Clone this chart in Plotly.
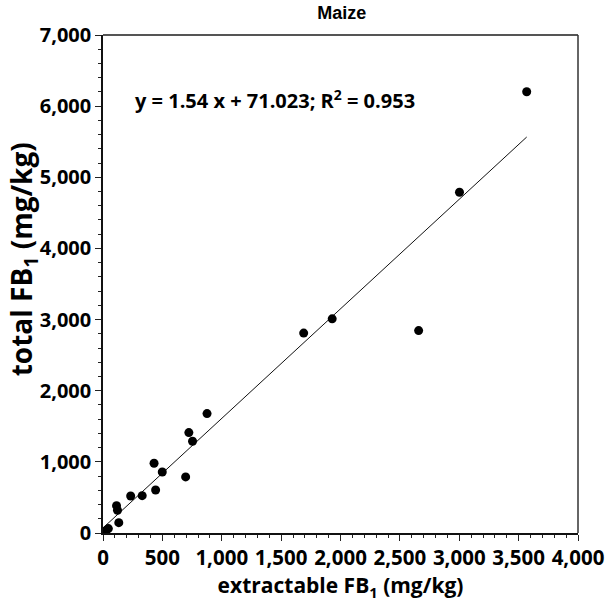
import plotly.graph_objects as go

# Data
extractable = [3568, 3002, 2658, 1930, 1690, 876, 723, 754, 430, 499, 696, 443, 233, 330, 114, 122, 133, 45, 25]
total = [6202, 4790, 2845, 3010, 2810, 1678, 1411, 1290, 980, 858, 788, 605, 520, 525, 384, 319, 145, 62, 35]
slope = 1.54
intercept = 71.023
r2 = 0.953
x_ticks = [0, 500, 1000, 1500, 2000, 2500, 3000, 3500, 4000]
y_ticks = [0, 1000, 2000, 3000, 4000, 5000, 6000, 7000]

fit_x = [0, max(extractable)]
fit_y = [slope * v + intercept for v in fit_x]

fig = go.Figure()
fig.add_trace(go.Scatter(x=fit_x, y=fit_y, mode="lines",
                         line=dict(color="#111", width=1), showlegend=False, hoverinfo="skip"))
fig.add_trace(go.Scatter(x=extractable, y=total, mode="markers",
                         marker=dict(color="black", size=9), showlegend=False))

font_family = "Open Sans"
fig.add_annotation(x=250, y=6090, xref="x", yref="y", xanchor="left", yanchor="middle",
                   text=f"y = {slope} x + {intercept}; R<sup>2</sup> = {r2}", showarrow=False,
                   font=dict(family=font_family, size=20, color="black", weight="bold"))

# y-axis title as an annotation for exact placement
fig.add_annotation(x=-0.168, y=0.55, xref="paper", yref="paper", xanchor="center", yanchor="middle",
                   text="total FB<sub>1</sub> (mg/kg)", textangle=-90, showarrow=False,
                   font=dict(family=font_family, size=28, color="black", weight="bold"))

# top and right frame lines (greyish in the reference)
fig.add_shape(type="line", xref="paper", yref="paper", x0=0, x1=1, y0=1, y1=1,
              line=dict(color="#555", width=2))
fig.add_shape(type="line", xref="paper", yref="paper", x0=1, x1=1, y0=0, y1=1,
              line=dict(color="#333", width=1.5))

fig.update_layout(
    width=616, height=602,
    margin=dict(l=103, r=33, t=35, b=69),
    paper_bgcolor="white", plot_bgcolor="white",
    title=dict(text="Maize", x=0.555, xanchor="center", y=1 - 13 / 602, yanchor="middle",
               font=dict(family="Liberation Sans", size=18, color="black", weight="bold")),
    xaxis=dict(range=[0, 4000], tickvals=x_ticks, ticktext=[f"{v:,}" for v in x_ticks],
               showgrid=False, zeroline=False, showline=True, linecolor="#111", linewidth=1.5,
               ticks="outside", ticklen=6, tickwidth=1.2, tickcolor="#222",
               minor=dict(dtick=100, ticks="outside", ticklen=3, tickcolor="#222", showgrid=False),
               tickfont=dict(family=font_family, size=20.5, color="black", weight="bold"),
               title=dict(text="extractable FB<sub>1</sub> (mg/kg)", standoff=3,
                          font=dict(family=font_family, size=21, color="black", weight="bold"))),
    yaxis=dict(range=[0, 7000], tickvals=y_ticks, ticktext=[f"{v:,}" for v in y_ticks],
               showgrid=False, zeroline=False, showline=True, linecolor="#111", linewidth=1.5,
               ticks="outside", ticklen=6, tickwidth=1.2, tickcolor="#222",
               minor=dict(dtick=200, ticks="outside", ticklen=3, tickcolor="#222", showgrid=False),
               tickfont=dict(family=font_family, size=20, color="black", weight="bold")),
)

fig.write_html("out.html", config={"displayModeBar": False},
               post_script="document.body.style.margin='0';")
